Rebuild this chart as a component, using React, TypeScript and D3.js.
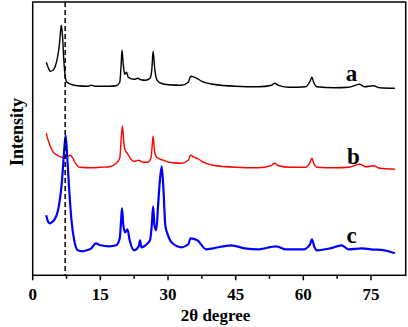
import React from "react";
import * as d3 from "d3";

const xTicks = [0, 15, 30, 45, 60, 75];
const xMinorTicks = [7.5, 22.5, 37.5, 52.5, 67.5];
const dashedAt = 7.2;

const thetaA = [3.0, 3.5, 3.9, 4.5, 5.0, 5.5, 5.9, 6.2, 6.35, 6.6, 6.9, 7.2, 7.6, 8.5, 10, 12, 13, 14, 17, 18.5, 19.3, 19.6, 19.8, 20.1, 20.4, 20.8, 21.2, 22.5, 23.3, 24, 25, 26, 26.4, 26.7, 27.0, 27.4, 28, 30, 33, 34.5, 35, 35.7, 36.4, 37.5, 40, 45, 50, 53, 53.6, 54.5, 57, 60.5, 61.5, 61.9, 62.3, 63, 67, 70, 72.5, 73.5, 75.5, 77, 80.3];
const intensityA = [213, 207, 204, 205, 209, 218, 230, 245, 250, 240, 215, 199, 193, 191, 189.5, 189, 190, 189, 189, 189.5, 193, 210, 225, 210, 201, 203, 198, 196, 197, 195.5, 195, 197, 205, 224, 209, 197, 193, 190.5, 190, 193, 199, 198.5, 197, 194, 191, 189, 188.5, 190, 192, 190, 188, 188.5, 194, 198, 193, 188.5, 187.5, 188, 191, 188.5, 189.5, 187.5, 187];

const thetaB = [3.0, 3.5, 4.0, 4.6, 5.5, 6.5, 7.2, 7.8, 8.3, 8.8, 9.5, 10.5, 13, 15, 17, 18.5, 19.3, 19.6, 19.9, 20.2, 20.5, 21, 21.5, 22.5, 23.5, 24.5, 25.5, 26.2, 26.5, 26.7, 27, 27.5, 29, 31, 33, 34.5, 35.0, 35.8, 36.5, 37.5, 40, 45, 50, 53, 53.6, 54.5, 57, 60.5, 61.5, 61.9, 62.3, 63, 67, 70, 72.5, 74, 75.5, 77, 80.3];
const intensityB = [142, 134, 128, 123, 120, 118, 118, 119, 120, 118, 112, 108, 107.5, 108, 108.5, 112, 117, 135, 149, 133, 125, 122, 118, 114, 115, 113, 113, 117, 130, 139, 125, 118, 115, 112.5, 112, 115, 120, 118, 117, 114, 110, 108, 107.5, 110, 112, 109.5, 108, 108, 113, 117, 112, 108, 107.5, 108, 111, 108.5, 109.5, 107, 106];

const thetaC = [3.0, 3.3, 3.8, 4.5, 5.0, 5.5, 6.0, 6.5, 6.9, 7.3, 7.7, 8.1, 8.6, 9.2, 10, 11, 12, 13, 14, 15, 17, 18.5, 19.3, 19.6, 19.8, 20.1, 20.5, 21, 21.5, 22.5, 23.5, 23.8, 24.1, 25, 26, 26.4, 26.7, 27.0, 27.4, 27.8, 28.2, 28.6, 29.0, 29.4, 30, 31, 33, 34.5, 35, 36.5, 38.5, 40, 44, 47, 50, 54, 56, 60, 61.5, 61.9, 62.4, 63, 66, 68.5, 70, 73, 75, 78, 80.3];
const intensityC = [60, 55, 52, 54, 57, 63, 75, 95, 120, 140, 115, 85, 55, 35, 25, 24, 25, 27, 32, 30, 29, 30, 37, 55, 67, 50, 43, 46, 35, 25, 29, 35, 28, 30, 35, 50, 69, 50, 45, 70, 95, 109, 85, 50, 40, 32, 28, 31, 37, 35, 26, 27, 30, 27, 26, 29, 26, 26, 31, 36, 29, 25, 27, 30, 26, 27, 26, 25, 22];

const seriesLabels = ["a", "b", "c"];
const seriesColors = ["#000000", "#ff0000", "#0000ff"];

const W = 408;
const H = 327;
const left = 32.7;
const right = 405.7;
const top = 2;
const bottom = 275.3;

export default function App() {
  const x = d3.scaleLinear().domain([0, 82.7]).range([left, right]);
  const y = d3.scaleLinear().domain([0, 273.3]).range([bottom, top]);
  const line = d3
    .line<[number, number]>()
    .x((d) => x(d[0]))
    .y((d) => y(d[1]))
    .curve(d3.curveMonotoneX);

  const series = [
    { t: thetaA, v: intensityA, w: 1.4 },
    { t: thetaB, v: intensityB, w: 1.4 },
    { t: thetaC, v: intensityC, w: 2.2 },
  ];
  const labelPos = [
    { x: 70.7, v: 194 },
    { x: 71.1, v: 111 },
    { x: 70.7, v: 32.5 },
  ];
  const font = "'Liberation Serif', 'Times New Roman', serif";

  return (
    <svg width={W} height={H} style={{ position: "absolute", left: 0, top: 0 }} fontFamily={font}>
      <rect x={0} y={0} width={W} height={H} fill="#fff" />
      {series.map((s, i) => (
        <path
          key={i}
          d={line(s.t.map((t, j) => [t, s.v[j]] as [number, number])) || ""}
          fill="none"
          stroke={seriesColors[i]}
          strokeWidth={s.w}
          strokeLinejoin="round"
        />
      ))}
      <line x1={x(dashedAt)} x2={x(dashedAt)} y1={top} y2={bottom} stroke="#000" strokeWidth={1.5} strokeDasharray="5,3" />
      <rect x={left} y={top} width={right - left} height={bottom - top} fill="none" stroke="#000" strokeWidth={1.5} />
      {xTicks.map((t) => (
        <g key={t}>
          <line x1={x(t)} x2={x(t)} y1={bottom} y2={bottom + 5} stroke="#000" strokeWidth={1.5} />
          <text x={x(t)} y={300} textAnchor="middle" fontSize={17} fontWeight="bold">
            {t}
          </text>
        </g>
      ))}
      {xMinorTicks.map((t) => (
        <line key={t} x1={x(t)} x2={x(t)} y1={bottom} y2={bottom + 3.5} stroke="#000" strokeWidth={1.5} />
      ))}
      <text x={215.5} y={320.5} textAnchor="middle" fontSize={17} fontWeight="bold">
        2θ degree
      </text>
      <text transform="translate(23,132) rotate(-90)" textAnchor="middle" fontSize={18} fontWeight="bold">
        Intensity
      </text>
      {seriesLabels.map((l, i) => (
        <text key={l} x={x(labelPos[i].x)} y={y(labelPos[i].v)} textAnchor="middle" fontSize={23} fontWeight="bold">
          {l}
        </text>
      ))}
    </svg>
  );
}
